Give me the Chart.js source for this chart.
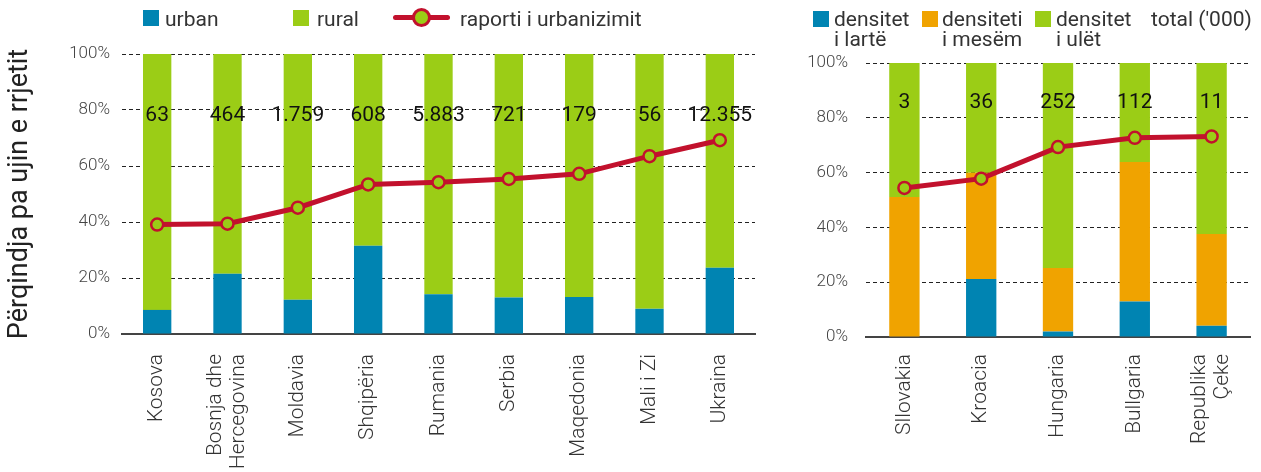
<!DOCTYPE html>
<html>
<head>
<meta charset="utf-8">
<script src="https://cdn.jsdelivr.net/npm/chart.js@4/dist/chart.umd.min.js"></script>
<style>
  html, body { margin: 0; padding: 0; background: #fff; }
  body { width: 1261px; height: 472px; position: relative; overflow: hidden; font-family: Roboto, "Noto Sans", sans-serif; }
  #c1 { position: absolute; left: 0; top: 0; }
  #c2 { position: absolute; left: 780px; top: 0; }
  .lg { position: absolute; font-size: 21px; line-height: 20px; color: #333; white-space: nowrap; }
  .box { position: absolute; width: 16px; height: 16px; }
</style>
</head>
<body>
<canvas id="c1" width="780" height="472"></canvas>
<canvas id="c2" width="481" height="472"></canvas>

<!-- left legend -->
<div class="box" style="left:143px;top:10px;background:#0084B2"></div>
<div class="lg" style="left:165px;top:9px">urban</div>
<div class="box" style="left:293px;top:10px;background:#9BCD16"></div>
<div class="lg" style="left:317px;top:9px">rural</div>
<div style="position:absolute;left:393px;top:15px;width:57px;height:5px;border-radius:3px;background:#C2112D"></div>
<div style="position:absolute;left:412px;top:8px;width:19px;height:19px;box-sizing:border-box;border:3px solid #C2112D;border-radius:50%;background:#9BCD16"></div>
<div class="lg" style="left:460px;top:9px">raporti i urbanizimit</div>

<!-- right legend -->
<div class="box" style="left:813px;top:11px;background:#0084B2"></div>
<div class="lg" style="left:834px;top:9px">densitet<br>i lartë</div>
<div class="box" style="left:922px;top:11px;background:#F0A300"></div>
<div class="lg" style="left:942px;top:9px">densiteti<br>i mesëm</div>
<div class="box" style="left:1035px;top:11px;background:#9BCD16"></div>
<div class="lg" style="left:1056px;top:9px">densitet<br>i ulët</div>
<div class="lg" style="left:1151px;top:9px">total ('000)</div>

<script>
// ---------- data: left chart ----------
const leftCategories = ['Kosova', ['Bosnja dhe', 'Hercegovina'], 'Moldavia', 'Shqipëria', 'Rumania', 'Serbia', 'Maqedonia', 'Mali i Zi', 'Ukraina'];
const urbanValues = [8.6, 21.5, 12.2, 31.5, 14.2, 13.0, 13.2, 9.0, 23.7];
const ruralValues = [91.4, 78.5, 87.8, 68.5, 85.8, 87.0, 86.8, 91.0, 76.3];
const urbanizationRatio = [39.1, 39.4, 45.1, 53.4, 54.2, 55.4, 57.2, 63.5, 69.2];
const leftTotals = ['63', '464', '1.759', '608', '5.883', '721', '179', '56', '12.355'];

// ---------- data: right chart ----------
const rightCategories = ['Sllovakia', 'Kroacia', 'Hungaria', 'Bullgaria', ['Republika', 'Çeke']];
const highDensity = [0, 21.2, 2.0, 13.0, 4.1];
const mediumDensity = [51.1, 38.7, 23.2, 50.9, 33.5];
const lowDensity = [48.9, 40.1, 74.8, 36.1, 62.4];
const rightRatio = [54.4, 57.8, 69.3, 72.7, 73.2];
const rightTotals = ['3', '36', '252', '112', '11'];

const yTicks = [0, 20, 40, 60, 80, 100];

// ---------- styles ----------
const BLUE = '#0084B2', GREEN = '#9BCD16', ORANGE = '#F0A300', RED = '#C2112D';
const FONT = 'Roboto, "Noto Sans", sans-serif';

// center multi-line rotated x tick labels on their tick
const centerMultiline = {
  id: 'centerMultiline',
  afterUpdate(chart) {
    const sc = chart.scales.x;
    const items = sc.getLabelItems();
    items.forEach(it => {
      if (Array.isArray(it.label) && !it._shifted) {
        const lh = it.font.lineHeight;
        it.options.translation[0] -= (it.label.length - 1) * lh / 2;
        it._shifted = true;
      }
    });
  }
};

const totalsPlugin = {
  id: 'totals',
  afterDatasetsDraw(chart, args, opts) {
    const {ctx} = chart;
    const xs = chart.scales.x, ys = chart.scales.y;
    ctx.save();
    ctx.font = '21px ' + FONT;
    ctx.fillStyle = '#111';
    ctx.textAlign = 'center';
    ctx.textBaseline = 'middle';
    opts.labels.forEach((t, i) => {
      ctx.fillText(t, xs.getPixelForValue(i), ys.getPixelForValue(opts.level));
    });
    ctx.restore();
  }
};

function makeOptions(cfg) {
  return {
    responsive: false,
    animation: false,
    layout: { padding: { top: cfg.top, right: cfg.right, left: 0, bottom: 0 } },
    plugins: {
      legend: { display: false },
      tooltip: { enabled: false },
      totals: { labels: cfg.totals, level: cfg.level }
    },
    scales: {
      x: {
        stacked: true,
        grid: { display: false, drawTicks: false },
        border: { display: true, color: '#444', width: 2 },
        ticks: {
          autoSkip: false, minRotation: 90, maxRotation: 90,
          padding: cfg.xPad, color: '#333',
          font: { family: FONT, size: 21, weight: '300', lineHeight: 1.1 }
        },
        afterFit(s) { s.height = cfg.xHeight; s.paddingLeft = 0; s.paddingRight = 0; }
      },
      y: {
        stacked: true, min: 0, max: 100,
        afterBuildTicks(s) { s.ticks = yTicks.map(v => ({ value: v })); },
        grid: { color: '#222', lineWidth: 1, drawTicks: false },
        border: { display: false, dash: [4, 3] },
        ticks: {
          padding: cfg.yPad, color: '#444',
          font: { family: FONT, size: 17, weight: '300' },
          callback: v => v + '%'
        },
        title: cfg.title ? {
          display: true, text: cfg.title, color: '#222',
          font: { family: FONT, size: 27 }, padding: { top: 4, bottom: 0 }
        } : { display: false },
        afterFit(s) { s.width = cfg.yWidth; }
      }
    }
  };
}

function lineDataset(data) {
  return {
    type: 'line', label: 'raporti i urbanizimit', data, stack: 'line', order: 0,
    borderColor: RED, borderWidth: 5, backgroundColor: GREEN,
    pointRadius: 6, pointBorderWidth: 2.5, pointBackgroundColor: GREEN, pointBorderColor: RED,
    tension: 0, fill: false
  };
}

const leftChart = new Chart(document.getElementById('c1'), {
  type: 'bar',
  data: {
    labels: leftCategories,
    datasets: [
      lineDataset(urbanizationRatio),
      { label: 'urban', data: urbanValues, backgroundColor: BLUE, stack: 's', order: 1, categoryPercentage: 1, barPercentage: 0.403 },
      { label: 'rural', data: ruralValues, backgroundColor: GREEN, stack: 's', order: 1, categoryPercentage: 1, barPercentage: 0.403 }
    ]
  },
  options: makeOptions({ top: 54, right: 25, xHeight: 138, yWidth: 122, xPad: 20, yPad: 12,
    totals: leftTotals, level: 77.9, title: 'Përqindja pa ujin e rrjetit' }),
  plugins: [totalsPlugin, centerMultiline]
});

const rightChart = new Chart(document.getElementById('c2'), {
  type: 'bar',
  data: {
    labels: rightCategories,
    datasets: [
      lineDataset(rightRatio),
      { label: 'densitet i lartë', data: highDensity, backgroundColor: BLUE, stack: 's', order: 1, categoryPercentage: 1, barPercentage: 0.395 },
      { label: 'densiteti i mesëm', data: mediumDensity, backgroundColor: ORANGE, stack: 's', order: 1, categoryPercentage: 1, barPercentage: 0.395 },
      { label: 'densitet i ulët', data: lowDensity, backgroundColor: GREEN, stack: 's', order: 1, categoryPercentage: 1, barPercentage: 0.395 }
    ]
  },
  options: makeOptions({ top: 63, right: 11, xHeight: 135, yWidth: 86, xPad: 17, yPad: 18,
    totals: rightTotals, level: 85.4, title: null }),
  plugins: [totalsPlugin, centerMultiline]
});
</script>
</body>
</html>
